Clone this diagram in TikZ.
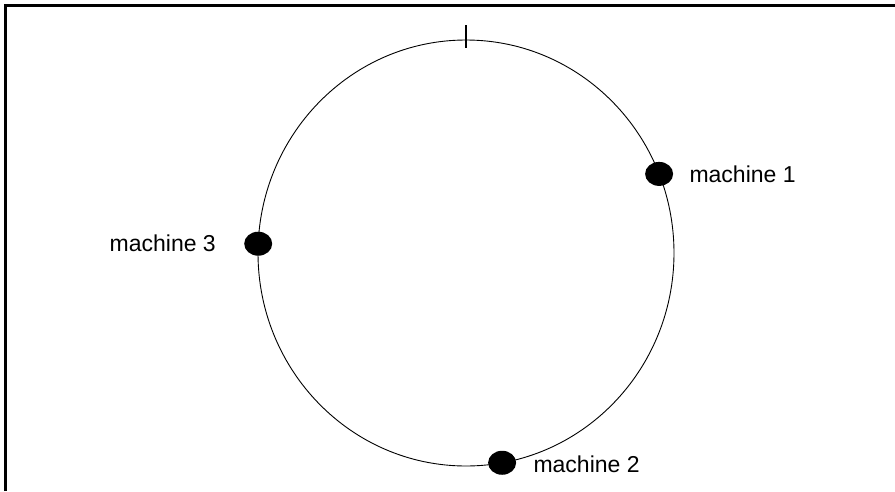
\documentclass[tikz,border=0pt]{standalone}
\usepackage{fontspec}
\setmainfont{Liberation Sans}
\usetikzlibrary{positioning,shapes.geometric}

\tikzset{
  dot/.style={ellipse,fill=black,inner sep=0pt,minimum width=28pt,minimum height=24pt},
  tag/.style={font=\fontsize{23}{27}\selectfont,inner sep=0pt,anchor=west}
}

\begin{document}
\begin{tikzpicture}[x=1pt,y=-1pt]
\useasboundingbox (0,0) rectangle (895,491);
% frame
\draw[line width=2.2pt] (5.5,491) -- (5.5,5.5) -- (895,5.5);
% ring
\coordinate (ctr) at (466,253);
\draw[line width=0.9pt] (ctr) ellipse [x radius=208, y radius=213];
\coordinate (tickA) at (466,25);
\coordinate (tickB) at (466,48);
\draw[line width=1.2pt] (tickA) -- (tickB);
% machines
\path (ctr) ++(-21.8:208 and 213) node[dot] (m1) {};
\path (ctr) ++(80:208 and 213) node[dot] (m2) {};
\path (ctr) ++(-177.5:208 and 213) node[dot] (m3) {};
\node[tag,right=16pt of m1] (t1) {machine 1};
\node[tag,right=17pt of m2,yshift=-2pt] (t2) {machine 2};
\node[tag,anchor=east,left=28pt of m3] (t3) {machine 3};
\end{tikzpicture}
\end{document}
